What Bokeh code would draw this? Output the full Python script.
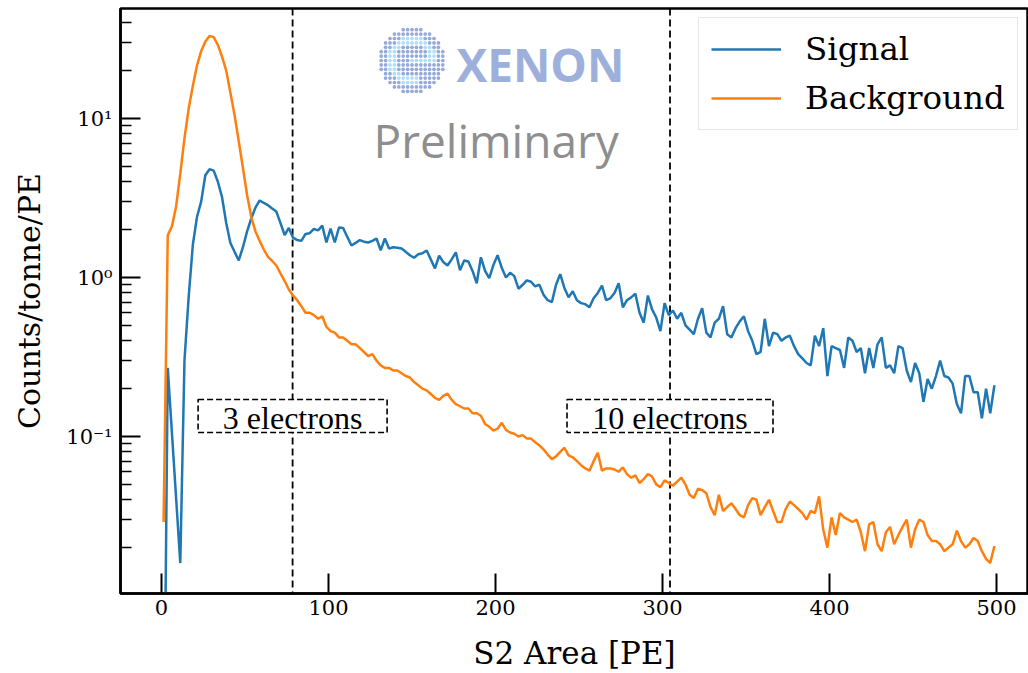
import numpy as np
from bokeh.plotting import figure
from bokeh.models import Range1d, Span, Legend, LegendItem, FixedTicker
from bokeh.core.properties import value
from bokeh.embed import file_html
from bokeh.resources import INLINE

# ---------------- data ----------------
BIN_WIDTH = 2.5  # PE per bin

signal = [
    0.0005, 0.27, 0.105, 0.041, 0.016, 0.3, 0.75, 1.6, 2.4, 3.0, 4.4, 4.8, 4.7, 4.0, 3.2, 2.2,
    1.65, 1.45, 1.28, 1.55, 1.95, 2.35, 2.75, 3.05, 2.95, 2.85, 2.72, 2.6, 2.2, 1.85, 2.05, 1.78,
    1.72, 1.70, 1.88, 1.90, 2.02, 1.98, 2.12, 1.66, 2.03, 1.66, 2.06, 2.05, 1.80, 1.59, 1.65, 1.72,
    1.68, 1.66, 1.70, 1.76, 1.48, 1.76, 1.52, 1.55, 1.54, 1.52, 1.45, 1.38, 1.33, 1.40, 1.42, 1.48,
    1.30, 1.14, 1.37, 1.25, 1.19, 1.30, 1.44, 1.11, 1.28, 1.26, 1.10, 0.92, 1.34, 1.10, 0.99, 1.20,
    1.38, 1.15, 1.00, 1.07, 1.02, 0.85, 0.90, 0.96, 0.94, 0.88, 0.90, 0.78, 0.72, 0.70, 0.90, 1.05,
    0.86, 0.75, 0.82, 0.72, 0.69, 0.68, 0.65, 0.74, 0.80, 0.89, 0.72, 0.74, 0.80, 0.92, 0.65, 0.72,
    0.75, 0.79, 0.60, 0.52, 0.77, 0.63, 0.56, 0.46, 0.69, 0.58, 0.62, 0.55, 0.60, 0.50, 0.47, 0.44,
    0.55, 0.64, 0.45, 0.42, 0.52, 0.55, 0.66, 0.44, 0.42, 0.48, 0.53, 0.57, 0.46, 0.40, 0.33, 0.34,
    0.55, 0.37, 0.45, 0.44, 0.40, 0.42, 0.43, 0.37, 0.33, 0.31, 0.29, 0.28, 0.43, 0.37, 0.48, 0.24,
    0.37, 0.36, 0.35, 0.27, 0.42,
    0.40, 0.34, 0.36, 0.25, 0.36, 0.27, 0.38, 0.42, 0.27, 0.28, 0.25, 0.37, 0.36, 0.26, 0.22, 0.29,
    0.25, 0.165, 0.23, 0.20, 0.24, 0.30, 0.24, 0.235, 0.215, 0.16, 0.14, 0.24, 0.24, 0.19, 0.19,
    0.13, 0.20, 0.14, 0.21,
]

background = [
    0.029, 1.84, 2.1, 2.8, 4.5, 7.5, 11.5, 16, 21.5, 26.5, 30.5, 33, 32.5, 29, 24.5, 20,
    14.5, 10.5, 7.2, 4.9, 3.3, 2.4, 1.95, 1.7, 1.5, 1.35, 1.27, 1.19, 1.06, 0.95, 0.84, 0.77,
    0.72, 0.66, 0.60, 0.60, 0.58, 0.55, 0.57, 0.49, 0.46, 0.45, 0.42, 0.42, 0.40, 0.38, 0.38, 0.36,
    0.34, 0.32, 0.33, 0.30, 0.28, 0.27, 0.27, 0.26, 0.26, 0.25, 0.24, 0.235, 0.22, 0.21, 0.20, 0.195,
    0.185, 0.175, 0.17, 0.18, 0.186, 0.17, 0.16, 0.155, 0.15, 0.15, 0.14, 0.14, 0.135, 0.12, 0.115, 0.109,
    0.112, 0.122, 0.11, 0.106, 0.104, 0.10, 0.102, 0.097, 0.097, 0.092, 0.088, 0.083, 0.077, 0.072, 0.075, 0.080,
    0.085, 0.076, 0.074, 0.070, 0.066, 0.063, 0.061, 0.070, 0.079, 0.061, 0.063, 0.063, 0.062, 0.060, 0.064, 0.058,
    0.055, 0.057, 0.051, 0.054, 0.058, 0.056, 0.050, 0.048, 0.053, 0.051, 0.049, 0.052, 0.055, 0.050, 0.043, 0.041,
    0.047, 0.046, 0.044, 0.036, 0.032, 0.043, 0.034, 0.036, 0.038, 0.035, 0.032, 0.031, 0.037, 0.041, 0.040, 0.032,
    0.036, 0.040, 0.034, 0.029, 0.029, 0.035, 0.039, 0.037, 0.035, 0.033, 0.030, 0.034, 0.033, 0.042, 0.026, 0.020,
    0.031, 0.024, 0.033, 0.031, 0.030,
    0.029, 0.030, 0.025, 0.019, 0.028, 0.029, 0.021, 0.019, 0.025, 0.027, 0.021, 0.024, 0.027, 0.030, 0.020, 0.026,
    0.030, 0.029, 0.024, 0.022, 0.022, 0.021, 0.019, 0.020, 0.021, 0.0256, 0.022, 0.020, 0.021, 0.023, 0.022,
    0.019, 0.017, 0.016, 0.0205,
]

series_names = ["Signal", "Background"]
series_colors = ["#1f77b4", "#ff7f0e"]

electron_thresholds = [78.5, 304.5]          # S2 area [PE]
electron_labels = ["3 electrons", "10 electrons"]

x_ticks = [0, 100, 200, 300, 400, 500]
y_ticks = [0.1, 1, 10]
y_tick_labels = ["10\u207b\u00b9", "10\u2070", "10\u00b9"]
y_minor = [m * t for t in [0.01, 0.1, 1, 10] for m in range(2, 10)]

x_sig = np.arange(len(signal)) * BIN_WIDTH + BIN_WIDTH / 2
x_bg = np.arange(len(background)) * BIN_WIDTH + BIN_WIDTH / 2

# --------------- layout helpers (page pixel -> data) ---------------
X0_PX, PX_PER_PE = 161.0, 1.67
Y1_PX, PX_PER_DEC = 277.0, 159.0
FRAME_L, FRAME_R, FRAME_T, FRAME_B = 120, 1028, 8, 593
W, H = 1028, 673


def dx(px):
    return (px - X0_PX) / PX_PER_PE


def dy(py):
    return 10 ** ((Y1_PX - py) / PX_PER_DEC)


SERIF = "DejaVu Serif"

p = figure(width=W, height=H, y_axis_type="log",
           x_range=Range1d(dx(FRAME_L), dx(FRAME_R)), y_range=Range1d(dy(FRAME_B), dy(FRAME_T)),
           output_backend="svg", toolbar_location=None,
           min_border_left=FRAME_L, min_border_right=W - FRAME_R,
           min_border_top=FRAME_T, min_border_bottom=H - FRAME_B)

p.background_fill_color = "white"
p.border_fill_color = "white"
p.outline_line_color = "black"
p.outline_line_width = 2.5
p.xgrid.visible = False
p.ygrid.visible = False

# axes
p.xaxis.ticker = FixedTicker(ticks=x_ticks)
p.yaxis.ticker = FixedTicker(ticks=y_ticks, minor_ticks=y_minor)
p.yaxis.major_label_overrides = {t: l for t, l in zip(y_ticks, y_tick_labels)}

for ax in (p.xaxis[0], p.yaxis[0]):
    ax.axis_line_width = 2.5
    ax.axis_line_color = "black"
    ax.major_tick_line_width = 2
    ax.major_tick_line_color = "black"
    ax.major_tick_in = 20
    ax.major_tick_out = 0
    ax.minor_tick_line_width = 1.5
    ax.minor_tick_line_color = "black"
    ax.minor_tick_in = 11
    ax.minor_tick_out = 0
    ax.major_label_text_font = SERIF
    ax.major_label_text_font_size = "21px"
    ax.major_label_text_color = "black"
    ax.axis_label_text_font = SERIF
    ax.axis_label_text_font_style = "normal"
    ax.axis_label_text_color = "black"

p.xaxis.axis_label = "S2 Area [PE]"
p.xaxis.axis_label_text_font_size = "31px"
p.xaxis.major_label_standoff = 6
p.xaxis.axis_label_standoff = 17

p.yaxis.axis_label = "Counts/tonne/PE"
p.yaxis.axis_label_text_font_size = "30px"
p.yaxis.major_label_standoff = 8
p.yaxis.axis_label_standoff = 16

# threshold lines
for thr in electron_thresholds:
    p.add_layout(Span(location=thr, dimension="height", line_color="black",
                      line_dash="7 4", line_width=1.8, level="underlay"))

# data lines
r_sig = p.line(x_sig, signal, line_color=series_colors[0], line_width=2.5)
r_bg = p.line(x_bg, background, line_color=series_colors[1], line_width=2.5)

# electron boxes
half_w = [94.5 / PX_PER_PE, 103.0 / PX_PER_PE]
p.quad(left=[t - h for t, h in zip(electron_thresholds, half_w)],
       right=[t + h for t, h in zip(electron_thresholds, half_w)],
       bottom=dy(432), top=dy(399), fill_color="white", line_color="black",
       line_dash="6 3", line_width=1.6)
p.text(x=electron_thresholds, y=[dy(417)] * 2, text=electron_labels,
       text_font=value("Liberation Serif"), text_font_size="32px", text_color="black",
       text_align="center", text_baseline="middle")

# XENON logo (decorative dot disc) + texts
cx, cy, sp = 411.5, 60.0, 4.4
dots_x, dots_y, dots_c = [], [], []
for i in range(-8, 9):
    for j in range(-8, 9):
        r = (i * i + j * j) ** 0.5
        if r > 7.4:
            continue
        ang = np.degrees(np.arctan2(-j, i))
        light = (3.8 <= r <= 5.6 and not (-70 < ang < 5)) or (j == 0 and 0 <= i <= 5)
        dots_x.append(dx(cx + i * sp))
        dots_y.append(dy(cy + j * sp))
        dots_c.append("#aedff5" if light else "#95a9da")
p.scatter(dots_x, dots_y, size=3.7, fill_color=dots_c, line_color=None)

p.text(x=[dx(456)], y=[dy(63)], text=["XENON"], text_font=value("Open Sans"),
       text_font_style="bold", text_font_size="46px", text_color="#9db0dc",
       text_align="left", text_baseline="middle")
p.text(x=[dx(373)], y=[dy(139)], text=["Preliminary"], text_font=value("Open Sans"),
       text_font_size="46px", text_color="#8e8e8e",
       text_align="left", text_baseline="middle")

# legend
legend = Legend(items=[LegendItem(label=series_names[0], renderers=[r_sig]),
                       LegendItem(label=series_names[1], renderers=[r_bg])],
                location=(578, 463), label_text_font=SERIF, label_text_font_size="32.5px",
                label_text_color="black",
                glyph_width=70, glyph_height=36, label_height=36, label_standoff=24,
                padding=12, spacing=11, margin=0, border_line_color="#cccccc",
                border_line_width=1.5, background_fill_color="white", background_fill_alpha=1.0)
p.add_layout(legend)

open("out.html", "w").write(file_html(p, INLINE))
